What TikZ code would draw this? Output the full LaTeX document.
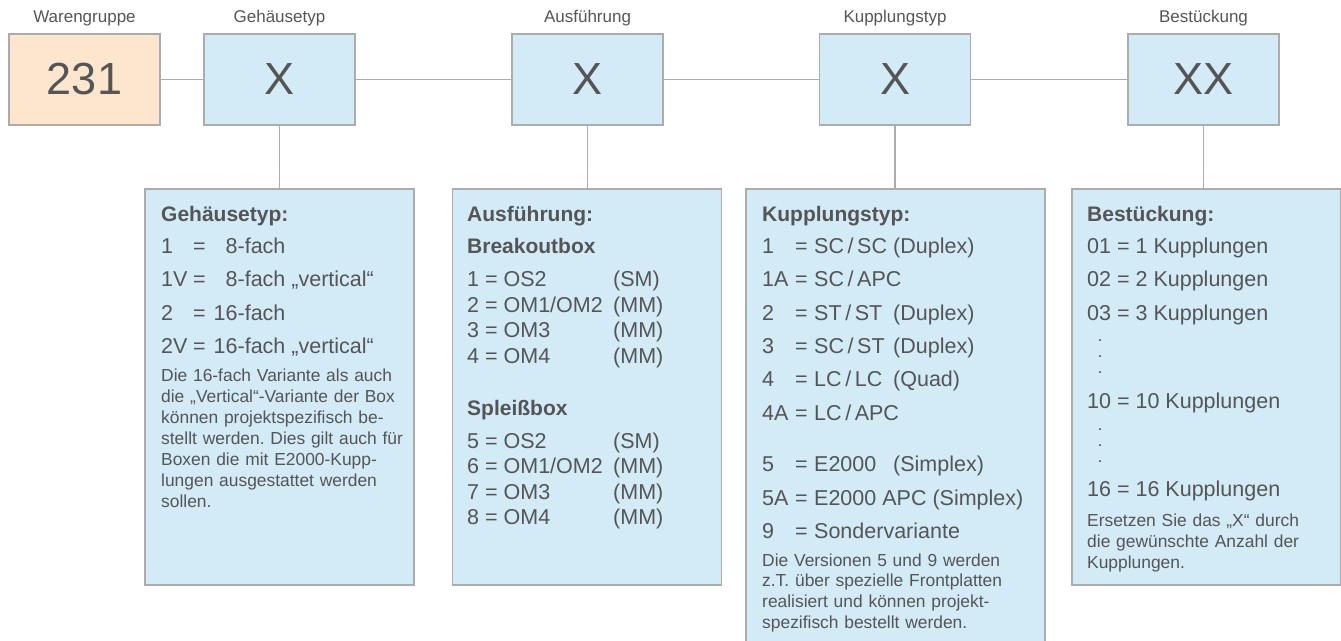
\documentclass[tikz,border=0pt]{standalone}
\usepackage{fontspec}
\setmainfont{Liberation Sans}
\definecolor{boxblue}{RGB}{211,234,247}
\definecolor{peach}{RGB}{253,230,205}
\definecolor{linegrey}{RGB}{172,172,172}
\definecolor{txtgrey}{RGB}{85,85,85}
\frenchspacing
\begin{document}
\begin{tikzpicture}[x=1pt,y=-1pt,
  topbox/.style={draw=linegrey, line width=1.4pt, fill=boxblue, minimum width=151pt, minimum height=91pt, inner sep=0pt, outer sep=0pt, text=txtgrey, font=\fontsize{45}{45}\selectfont},
  lowbox/.style={draw=linegrey, line width=1.4pt, fill=boxblue, anchor=north west, inner sep=0pt, outer sep=0pt},
  conn/.style={draw=linegrey, line width=1.2pt},
  toplabel/.style={anchor=base, inner sep=0pt, text=txtgrey, font=\fontsize{17}{20}\selectfont},
  head/.style={anchor=base west, inner sep=0pt, text=txtgrey, font=\bfseries\fontsize{21}{25}\selectfont},
  item/.style={anchor=base west, inner sep=0pt, text=txtgrey, font=\fontsize{21.5}{25}\selectfont},
  para/.style={anchor=base west, inner sep=0pt, text=txtgrey, font=\frenchspacing\fontsize{17.4}{20.9}\selectfont, text width=#1, align=left},
  dotcol/.style={inner sep=0pt, text=txtgrey, align=center, font=\bfseries\fontsize{12}{16}\selectfont}
]
\useasboundingbox (0,0) rectangle (1341,640);

% top labels
\node[toplabel] (lw) at (84.5,22.5) {Warengruppe};
\node[toplabel] (lg) at (279.5,22.5) {Gehäusetyp};
\node[toplabel] (la) at (587.5,22.5) {Ausführung};
\node[toplabel] (lk) at (895,22.5) {Kupplungstyp};
\node[toplabel] (lb) at (1203.5,22.5) {Bestückung};

% top boxes
\node[topbox, fill=peach] (w) at (84.5,79.5) {231};
\node[topbox] (g) at (279.5,79.5) {X};
\node[topbox] (a) at (587.5,79.5) {X};
\node[topbox] (k) at (895,79.5) {X};
\node[topbox] (b) at (1203.5,79.5) {XX};

% lower boxes
\node[lowbox, minimum width=269pt, minimum height=396pt] (gbox) at (145,189) {};
\node[lowbox, minimum width=269pt, minimum height=396pt] (abox) at (452.5,189) {};
\node[lowbox, minimum width=299pt, minimum height=460pt] (kbox) at (746,189) {};
\node[lowbox, minimum width=269pt, minimum height=396pt] (bbox) at (1072,189) {};

% connectors
\draw[conn] (w.east) -- (g.west);
\draw[conn] (g.east) -- (a.west);
\draw[conn] (a.east) -- (k.west);
\draw[conn] (k.east) -- (b.west);
\draw[conn] (g.south) -- (g.south |- gbox.north);
\draw[conn] (a.south) -- (a.south |- abox.north);
\draw[conn] (k.south) -- (k.south |- kbox.north);
\draw[conn] (b.south) -- (b.south |- bbox.north);

% Gehäusetyp box
\node[head] (gh) at (161,221.7) {Gehäusetyp:};
\node[item] (g1) at (161,253.3) {\makebox[32pt][l]{1}=\hspace{8pt}\phantom{1}8-fach};
\node[item] (g2) at (161,286.7) {\makebox[32pt][l]{1V}=\hspace{8pt}\phantom{1}8-fach „vertical“};
\node[item] (g3) at (161,320) {\makebox[32pt][l]{2}=\hspace{8pt}16-fach};
\node[item] (g4) at (161,353.3) {\makebox[32pt][l]{2V}=\hspace{8pt}16-fach „vertical“};
\node[para=238pt] (gp) at (161,381.7) {%
\makebox[238pt][s]{Die 16-fach Variante als auch}\\
\makebox[238pt][s]{die „Vertical“-Variante der Box}\\
\makebox[238pt][s]{können projektspezifisch be-}\\
\makebox[238pt][s]{stellt werden. Dies gilt auch für}\\
\makebox[238pt][s]{Boxen die mit E2000-Kupp-}\\
\makebox[238pt][s]{lungen ausgestattet werden}\\
sollen.};

% Ausführung box
\node[head] (ah) at (467,221.7) {Ausführung:};
\node[head] (ab1) at (467,253.3) {Breakoutbox};
\node[item] (a1) at (467,286.7) {\makebox[146pt][l]{1 = OS2}(SM)};
\node[item] (a2) at (467,312.2) {\makebox[146pt][l]{2 = OM1/OM2}(MM)};
\node[item] (a3) at (467,337.7) {\makebox[146pt][l]{3 = OM3}(MM)};
\node[item] (a4) at (467,363.2) {\makebox[146pt][l]{4 = OM4}(MM)};
\node[head] (ab2) at (467,415) {Spleißbox};
\node[item] (a5) at (467,448.3) {\makebox[146pt][l]{5 = OS2}(SM)};
\node[item] (a6) at (467,473.8) {\makebox[146pt][l]{6 = OM1/OM2}(MM)};
\node[item] (a7) at (467,499.3) {\makebox[146pt][l]{7 = OM3}(MM)};
\node[item] (a8) at (467,524.8) {\makebox[146pt][l]{8 = OM4}(MM)};

% Kupplungstyp box
\node[head] (kh) at (762,221.7) {Kupplungstyp:};
\node[item] (k1) at (762,253.3) {\makebox[33pt][l]{1}\makebox[19pt][l]{=}\makebox[79pt][l]{SC\,/\,SC}(Duplex)};
\node[item] (k2) at (762,286.7) {\makebox[33pt][l]{1A}\makebox[19pt][l]{=}SC\,/\,APC};
\node[item] (k3) at (762,320) {\makebox[33pt][l]{2}\makebox[19pt][l]{=}\makebox[79pt][l]{ST\,/\,ST}(Duplex)};
\node[item] (k4) at (762,353.3) {\makebox[33pt][l]{3}\makebox[19pt][l]{=}\makebox[79pt][l]{SC\,/\,ST}(Duplex)};
\node[item] (k5) at (762,386.7) {\makebox[33pt][l]{4}\makebox[19pt][l]{=}\makebox[79pt][l]{LC\,/\,LC}(Quad)};
\node[item] (k6) at (762,420) {\makebox[33pt][l]{4A}\makebox[19pt][l]{=}LC\,/\,APC};
\node[item] (k7) at (762,471.7) {\makebox[33pt][l]{5}\makebox[19pt][l]{=}\makebox[79pt][l]{E2000}(Simplex)};
\node[item] (k8) at (762,505) {\makebox[33pt][l]{5A}\makebox[19pt][l]{=}E2000 APC (Simplex)};
\node[item] (k9) at (762,538.3) {\makebox[33pt][l]{9}\makebox[19pt][l]{=}Sondervariante};
\node[para=270pt] (kp) at (762,566) {%
Die Versionen 5 und 9 werden\\
z.T. über spezielle Frontplatten\\
realisiert und können projekt-\\
spezifisch bestellt werden.};

% Bestückung box
\node[head] (bh) at (1087,221.7) {Bestückung:};
\node[item] (b1) at (1087,253.3) {01 = 1 Kupplungen};
\node[item] (b2) at (1087,286.7) {02 = 2 Kupplungen};
\node[item] (b3) at (1087,320) {03 = 3 Kupplungen};
\node[dotcol] (bda) at (1100,357) {.\\.\\.};
\node[item] (b4) at (1087,408.3) {10 = 10 Kupplungen};
\node[dotcol] (bdb) at (1100,445.5) {.\\.\\.};
\node[item] (b5) at (1087,496.7) {16 = 16 Kupplungen};
\node[para=240pt] (bp) at (1087,526.7) {%
Ersetzen Sie das „X“ durch\\
die gewünschte Anzahl der\\
Kupplungen.};
\end{tikzpicture}
\end{document}
